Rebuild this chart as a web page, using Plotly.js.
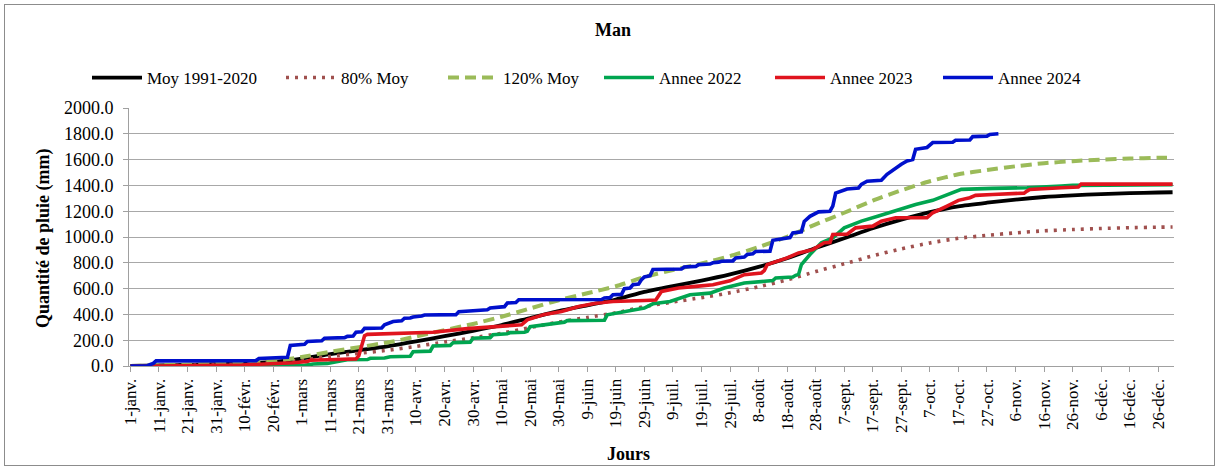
<!DOCTYPE html>
<html>
<head>
<meta charset="utf-8">
<script src="https://cdn.plot.ly/plotly-3.0.1.min.js"></script>
<style>
html,body{margin:0;padding:0;background:#fff;}
#wrap{position:relative;width:1220px;height:470px;overflow:hidden;}
#chart{width:1220px;height:470px;}
#frame{position:absolute;left:4px;top:4px;width:1209px;height:460px;border:1px solid #8c8c8c;pointer-events:none;}
</style>
</head>
<body>
<div id="wrap"><div id="chart"></div><div id="frame"></div></div>
<script>
// ---------- data ----------
const chartTitle = 'Man';
const xTitle = 'Jours';
const yTitle = 'Quantité de pluie (mm)';
const tickLabels = ['1-janv.','11-janv.','21-janv.','31-janv.','10-févr.','20-févr.','1-mars','11-mars','21-mars','31-mars','10-avr.','20-avr.','30-avr.','10-mai','20-mai','30-mai','9-juin','19-juin','29-juin','9-juil.','19-juil.','29-juil.','8-août','18-août','28-août','7-sept.','17-sept.','27-sept.','7-oct.','17-oct.','27-oct.','6-nov.','16-nov.','26-nov.','6-déc.','16-déc.','26-déc.'];
const tickDays = tickLabels.map((_, i) => 1 + 10 * i);

const seriesNames = ['Moy 1991-2020', '80% Moy', '120% Moy', 'Annee 2022', 'Annee 2023', 'Annee 2024'];

const normDays = [1,11,21,31,41,51,61,71,81,91,101,111,121,131,141,151,161,171,181,191,201,211,221,231,241,251,261,271,281,291,301,311,321,331,341,351,361,366];
const moyVals  = [0,5,9,14,20,32,58,92,122,152,190,232,272,318,372,425,470,515,575,620,662,710,768,835,915,990,1068,1135,1193,1238,1266,1290,1310,1323,1333,1340,1345,1347];
const moy80Vals = [0,4,7,11,16,26,46,74,98,122,152,186,218,254,298,340,376,412,460,496,530,568,614,668,732,792,854,908,954,990,1013,1032,1048,1058,1066,1072,1076,1078];
const moy120Vals = [0,6,11,17,24,38,70,110,146,182,228,278,326,382,446,510,564,618,690,744,794,852,922,1002,1098,1188,1282,1362,1432,1486,1519,1548,1572,1588,1600,1608,1614,1616];

const days2022 = [1,60,62,65,70,75,77,84,85,90,92,99,100,106,107,113,114,120,121,127,128,133,134,139,140,141,147,150,153,154,167,168,175,181,182,184,190,197,204,209,216,221,226,227,233,234,235,236,239,243,247,251,257,263,269,276,282,289,292,303,315,327,331,366];
const vals2022 = [0,0,5,15,20,40,48,50,60,62,72,75,110,115,155,160,180,185,215,220,243,250,259,262,270,305,320,330,340,352,355,397,423,449,460,482,500,552,565,604,643,656,662,682,690,703,710,786,864,955,993,1071,1123,1162,1206,1252,1284,1343,1369,1377,1382,1395,1400,1405];

const days2023 = [1,10,40,50,58,63,64,73,80,81,83,84,98,107,119,131,138,140,145,146,152,158,164,170,181,185,187,193,199,205,211,213,216,222,223,224,231,235,240,244,246,247,252,255,261,264,269,280,282,287,291,295,297,303,314,315,316,327,333,334,366];
const vals2023 = [0,0,8,15,25,35,45,50,55,80,235,245,255,262,290,311,319,358,397,400,423,461,487,500,508,512,578,604,617,630,660,680,708,721,740,786,838,877,902,955,958,1019,1022,1071,1084,1123,1149,1150,1188,1240,1284,1305,1323,1330,1340,1356,1369,1382,1387,1410,1410];

const days2024 = [1,7,8,9,10,45,46,52,53,56,57,62,63,68,69,76,77,79,80,82,83,89,90,92,93,96,97,99,100,103,104,115,116,121,126,127,132,133,136,137,166,167,169,170,173,174,176,177,179,180,181,183,184,194,195,199,200,204,205,207,208,212,213,216,217,219,220,225,226,232,233,236,237,239,242,246,247,248,252,256,257,259,263,264,266,268,271,273,275,276,280,282,289,290,295,296,301,302,305];
const vals2024 = [0,2,12,20,40,42,58,62,66,68,160,168,190,195,215,220,230,232,262,265,292,295,320,332,345,350,370,372,380,388,395,398,420,428,436,450,460,488,492,513,515,527,530,552,555,600,605,630,635,670,690,700,748,752,768,772,786,790,800,805,812,815,838,845,864,870,888,890,975,995,1032,1040,1120,1160,1195,1200,1240,1340,1372,1380,1408,1432,1436,1440,1486,1520,1564,1590,1600,1680,1694,1732,1735,1750,1752,1778,1782,1795,1800];

// ---------- styling ----------
const FONT = 'Liberation Serif, Times New Roman, serif';
const colors = ['#000000', '#A0504E', '#9BBB59', '#00A550', '#E0141E', '#0010CC'];
const legendStarts = [92, 286, 448, 604, 775, 943];   // px, line sample start
const PL = 129, PR = 1174, PT = 108, PB = 366;
const PW = PR - PL, PH = PB - PT;
const px2x = p => (p - PL) / PW;
const py2y = p => (PB - p) / PH;

const xs = [normDays, normDays, normDays, days2022, days2023, days2024];
const ys = [moyVals, moy80Vals, moy120Vals, vals2022, vals2023, vals2024];
const lineStyles = [
  {width: 3.8, dash: 'solid', shape: 'spline', smoothing: 0.6},
  {width: 3.6, dash: '3px,6px', shape: 'spline', smoothing: 0.6},
  {width: 4, dash: '11px,6px', shape: 'spline', smoothing: 0.6},
  {width: 3.6, dash: 'solid', shape: 'linear'},
  {width: 3.6, dash: 'solid', shape: 'linear'},
  {width: 3.6, dash: 'solid', shape: 'linear'}
];

const data = seriesNames.map((name, i) => ({
  type: 'scatter', mode: 'lines', name: name,
  x: xs[i], y: ys[i],
  line: Object.assign({color: colors[i]}, lineStyles[i]),
  legend: i === 0 ? 'legend' : 'legend' + (i + 1),
  hoverinfo: 'skip'
}));

const layout = {
  width: 1220, height: 470,
  margin: {l: PL, r: 1220 - PR, t: PT, b: 470 - PB, pad: 0},
  paper_bgcolor: '#ffffff', plot_bgcolor: '#ffffff',
  font: {family: FONT, size: 16, color: '#000'},
  showlegend: true,
  xaxis: {
    range: [0.5, 366.5], tickmode: 'array', tickvals: tickDays, ticktext: tickLabels,
    tickangle: -90, ticks: 'outside', ticklen: 5, tickcolor: '#a0a0a0', tickwidth: 1,
    showline: true, linecolor: '#a0a0a0', linewidth: 1, showgrid: false, zeroline: false,
    tickfont: {family: FONT, size: 17, color: '#000'}
  },
  yaxis: {
    range: [0, 2000], tickmode: 'linear', tick0: 0, dtick: 200, tickformat: '.1f',
    ticks: 'outside', ticklen: 5, tickcolor: '#a0a0a0', tickwidth: 1, ticklabelstandoff: 6,
    showline: true, linecolor: '#a0a0a0', linewidth: 1,
    showgrid: true, gridcolor: '#a8a8a8', gridwidth: 1, zeroline: false,
    tickfont: {family: FONT, size: 18, color: '#000'}
  },
  annotations: [
    {text: '<b>' + chartTitle + '</b>', xref: 'paper', yref: 'paper', x: px2x(613), y: py2y(30),
     xanchor: 'center', yanchor: 'middle', showarrow: false, font: {family: FONT, size: 18, color: '#000'}},
    {text: '<b>' + xTitle + '</b>', xref: 'paper', yref: 'paper', x: px2x(628), y: py2y(454),
     xanchor: 'center', yanchor: 'middle', showarrow: false, font: {family: FONT, size: 18, color: '#000'}},
    {text: '<b>' + yTitle + '</b>', xref: 'paper', yref: 'paper', x: px2x(43), y: py2y(238),
     xanchor: 'center', yanchor: 'middle', textangle: -90, showarrow: false, font: {family: FONT, size: 18, color: '#000'}}
  ]
};

legendStarts.forEach((s, i) => {
  const key = i === 0 ? 'legend' : 'legend' + (i + 1);
  layout[key] = {
    x: px2x(s - 5), y: py2y(78), xanchor: 'left', yanchor: 'middle',
    orientation: 'h', bgcolor: 'rgba(0,0,0,0)', borderwidth: 0,
    itemwidth: 50, font: {family: FONT, size: 17, color: '#000'}
  };
});

Plotly.newPlot('chart', data, layout, {staticPlot: true, displayModeBar: false});
</script>
</body>
</html>
